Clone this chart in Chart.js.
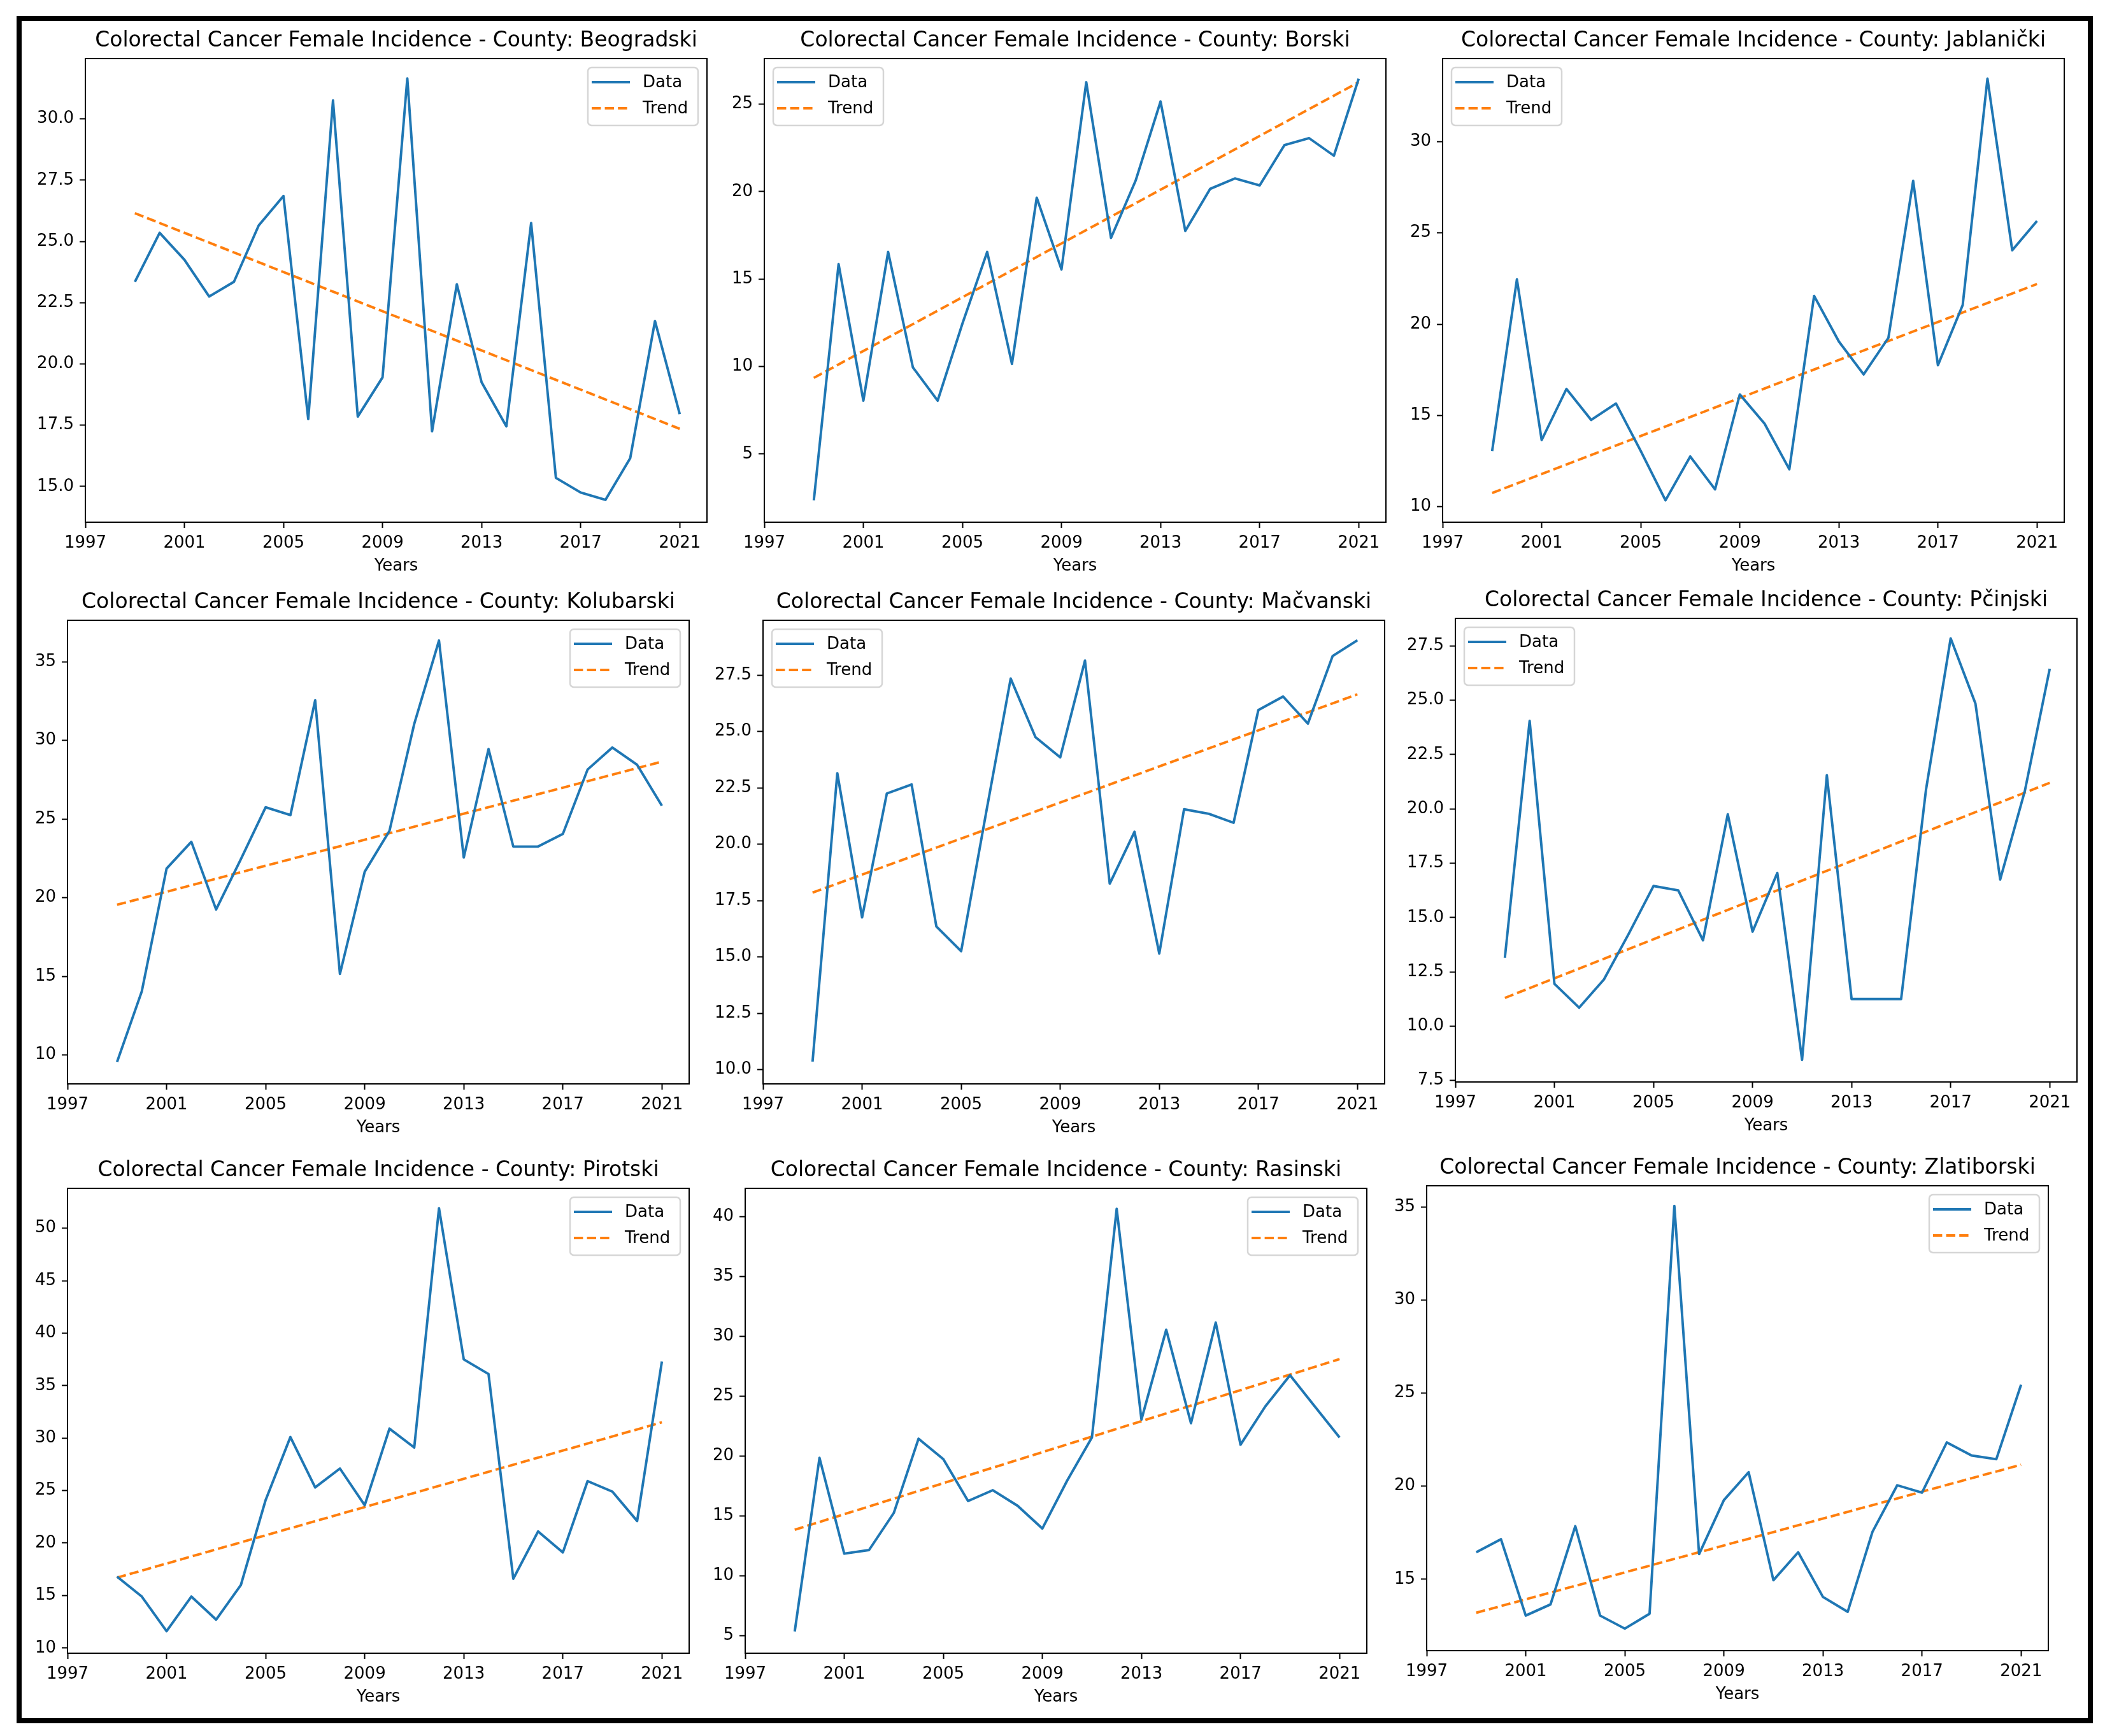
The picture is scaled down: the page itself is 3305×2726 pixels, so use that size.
<!DOCTYPE html>
<html>
<head>
	<meta charset="utf-8">
	<title>Colorectal Cancer Female Incidence</title>
	<script src="https://cdn.jsdelivr.net/npm/chart.js@4/dist/chart.umd.js"></script>
	<style>
		html, body { margin: 0; padding: 0; background: #fff; overflow: hidden; width: 3305px; height: 2726px; }
		canvas { position: absolute; }
		#frame { position: absolute; left: 26px; top: 25px; width: 3244px; height: 2665px; border: 8px solid #000; }
	</style>
</head>
<body>
	<div id="frame"></div>

	<script type="text/javascript">

		const years = [1999,2000,2001,2002,2003,2004,2005,2006,2007,2008,2009,2010,2011,2012,2013,2014,2015,2016,2017,2018,2019,2020,2021];
		const trendYears = [1999, 2021];
		const xTicks = [1997,2001,2005,2009,2013,2017,2021];
		const xMin = 1997;
		const xMax = 2022.1;

		const beogradski = [23.35,25.35,24.25,22.75,23.35,25.65,26.85,17.75,30.75,17.85,19.45,31.65,17.25,23.25,19.25,17.45,25.75,15.35,14.75,14.45,16.15,21.75,17.95];
		const borski = [2.35,15.85,8.05,16.55,9.95,8.05,12.45,16.55,10.15,19.65,15.55,26.25,17.35,20.65,25.15,17.75,20.15,20.75,20.35,22.65,23.05,22.05,26.45];
		const jablanicki = [13.05,22.45,13.65,16.45,14.75,15.65,13.05,10.35,12.75,10.95,16.15,14.55,12.05,21.55,19.05,17.25,19.25,27.85,17.75,21.05,33.45,24.05,25.65];
		const kolubarski = [9.55,14.05,21.85,23.55,19.25,22.45,25.75,25.25,32.55,15.15,21.65,24.25,31.05,36.35,22.55,29.45,23.25,23.25,24.05,28.15,29.55,28.45,25.85];
		const macvanski = [10.35,23.15,16.75,22.25,22.65,16.35,15.25,21.35,27.35,24.75,23.85,28.15,18.25,20.55,15.15,21.55,21.35,20.95,25.95,26.55,25.35,28.35,29.05];
		const pcinjski = [13.15,24.05,11.95,10.85,12.15,14.25,16.45,16.25,13.95,19.75,14.35,17.05,8.45,21.55,11.25,11.25,11.25,20.85,27.85,24.85,16.75,20.85,26.45];
		const pirotski = [16.8,14.9,11.6,14.9,12.7,16,24.1,30.1,25.3,27.1,23.6,30.9,29.1,51.9,37.5,36.1,16.6,21.1,19.1,25.9,24.9,22.1,37.3];
		const rasinski = [5.35,19.85,11.85,12.15,15.25,21.45,19.75,16.25,17.15,15.85,13.95,17.95,21.55,40.65,23.05,30.55,22.75,31.15,20.95,24.15,26.75,24.15,21.55];
		const zlatiborski = [16.45,17.15,13.05,13.65,17.85,13.05,12.35,13.15,35.05,16.35,19.25,20.75,14.95,16.45,14.05,13.25,17.55,20.05,19.65,22.35,21.65,21.45,25.45];

		const trendBeogradski = [26.15, 17.35];
		const trendBorski = [9.35, 26.25];
		const trendJablanicki = [10.75, 22.2];
		const trendKolubarski = [19.55, 28.65];
		const trendMacvanski = [17.85, 26.65];
		const trendPcinjski = [11.3, 21.2];
		const trendPirotski = [16.7, 31.5];
		const trendRasinski = [13.85, 28.1];
		const trendZlatiborski = [13.2, 21.15];

		const panels = [
			{ county: 'Beogradski', data: beogradski, trend: trendBeogradski, yMin: 13.54, yMax: 32.46, yTicks: [15,17.5,20,22.5,25,27.5,30], left: 134, top: 92, h: 728, legend: 'right' },
			{ county: 'Borski', data: borski, trend: trendBorski, yMin: 1.1, yMax: 27.6, yTicks: [5,10,15,20,25], left: 1200, top: 92, h: 728, legend: 'left' },
			{ county: 'Jablanički', data: jablanicki, trend: trendJablanicki, yMin: 9.15, yMax: 34.55, yTicks: [10,15,20,25,30], left: 2265, top: 92, h: 728, legend: 'left' },
			{ county: 'Kolubarski', data: kolubarski, trend: trendKolubarski, yMin: 8.16, yMax: 37.64, yTicks: [10,15,20,25,30,35], left: 106, top: 974, h: 728, legend: 'right' },
			{ county: 'Mačvanski', data: macvanski, trend: trendMacvanski, yMin: 9.365, yMax: 29.935, yTicks: [10,12.5,15,17.5,20,22.5,25,27.5], left: 1198, top: 974, h: 728, legend: 'left' },
			{ county: 'Pčinjski', data: pcinjski, trend: trendPcinjski, yMin: 7.43, yMax: 28.77, yTicks: [7.5,10,12.5,15,17.5,20,22.5,25,27.5], left: 2285, top: 971, h: 728, legend: 'left' },
			{ county: 'Pirotski', data: pirotski, trend: trendPirotski, yMin: 9.5, yMax: 53.8, yTicks: [10,15,20,25,30,35,40,45,50], left: 106, top: 1866, h: 730, legend: 'right' },
			{ county: 'Rasinski', data: rasinski, trend: trendRasinski, yMin: 3.535, yMax: 42.365, yTicks: [5,10,15,20,25,30,35,40], left: 1170, top: 1866, h: 730, legend: 'right' },
			{ county: 'Zlatiborski', data: zlatiborski, trend: trendZlatiborski, yMin: 11.165, yMax: 36.135, yTicks: [15,20,25,30,35], left: 2240, top: 1862, h: 730, legend: 'right' },
		];

		const plotW = 976;
		const sideRoom = 100;
		const topRoom = 60;
		const bottomRoom = 85;
		const fontFamily = '"DejaVu Sans"';
		const blue = '#1f77b4';
		const orange = '#ff7f0e';

		// matplotlib style frame and legend box, chart.js only has them outside the plot
		const framePlugin = {
			id: 'frameAndLegend',
			afterDraw(chart, args, opts) {
				const ctx = chart.ctx;
				const a = chart.chartArea;
				ctx.save();
				ctx.strokeStyle = '#000';
				ctx.lineWidth = 2;
				ctx.strokeRect(a.left, a.top, a.right - a.left, a.bottom - a.top);

				const w = 173, h = 91;
				const x = opts.side === 'left' ? a.left + 14 : a.right - 14 - w;
				const y = a.top + 14;
				ctx.beginPath();
				ctx.roundRect(x, y, w, h, 6);
				ctx.fillStyle = 'rgba(255,255,255,0.8)';
				ctx.fill();
				ctx.strokeStyle = 'rgba(204,204,204,0.8)';
				ctx.lineWidth = 2.5;
				ctx.stroke();

				const sets = chart.data.datasets;
				const rows = [y + 23, y + 64];
				sets.forEach((ds, i) => {
					ctx.beginPath();
					ctx.strokeStyle = ds.borderColor;
					ctx.lineWidth = ds.borderWidth;
					ctx.setLineDash(ds.borderDash || []);
					ctx.moveTo(x + 6, rows[i]);
					ctx.lineTo(x + 66, rows[i]);
					ctx.stroke();
					ctx.setLineDash([]);
					ctx.fillStyle = '#000';
					ctx.font = '26px ' + fontFamily;
					ctx.textBaseline = 'middle';
					ctx.textAlign = 'left';
					ctx.fillText(ds.label, x + 86, rows[i] + 1);
				});
				ctx.restore();
			}
		};

		panels.forEach(p => {
			const canvas = document.createElement('canvas');
			canvas.width = plotW + sideRoom * 2;
			canvas.height = topRoom + p.h + bottomRoom;
			canvas.style.left = (p.left - sideRoom) + 'px';
			canvas.style.top = (p.top - topRoom) + 'px';
			document.body.appendChild(canvas);

			const decimals = p.yTicks.some(v => v % 1 !== 0);
			const tickStyle = { display: true, drawOnChartArea: false, drawTicks: true, tickLength: 9, tickColor: '#000', tickWidth: 2 };

			new Chart(canvas.getContext('2d'), {
				type: 'line',
				data: {
					datasets: [
						{
							label: 'Data',
							data: years.map((y, i) => ({ x: y, y: p.data[i] })),
							borderColor: blue,
							borderWidth: 3.9,
							pointRadius: 0,
							tension: 0,
							borderJoinStyle: 'round',
						},
						{
							label: 'Trend',
							data: trendYears.map((y, i) => ({ x: y, y: p.trend[i] })),
							borderColor: orange,
							borderWidth: 3.9,
							borderDash: [14.4, 6.2],
							pointRadius: 0,
							tension: 0,
						},
					]
				},
				options: {
					responsive: false,
					animation: false,
					devicePixelRatio: 1,
					plugins: {
						legend: { display: false },
						tooltip: { enabled: false },
						title: {
							display: true,
							text: 'Colorectal Cancer Female Incidence - County: ' + p.county,
							color: '#000',
							font: { family: fontFamily, size: 33, weight: 'normal', lineHeight: 1 },
							padding: { top: 16, bottom: 11 },
						},
						frameAndLegend: { side: p.legend },
					},
					scales: {
						x: {
							type: 'linear',
							min: xMin,
							max: xMax,
							afterBuildTicks: s => { s.ticks = xTicks.map(v => ({ value: v })); },
							afterFit: s => { s.height = bottomRoom; },
							ticks: {
								autoSkip: false, maxRotation: 0, minRotation: 0, padding: 9,
								color: '#000', font: { family: fontFamily, size: 26 },
								callback: v => String(v),
							},
							grid: tickStyle,
							border: { display: true, color: '#000', width: 2 },
							title: {
								display: true, text: 'Years', color: '#000',
								font: { family: fontFamily, size: 26 },
								padding: 0,
							},
						},
						y: {
							type: 'linear',
							min: p.yMin,
							max: p.yMax,
							afterBuildTicks: s => { s.ticks = p.yTicks.map(v => ({ value: v })); },
							afterFit: s => { s.width = sideRoom; },
							ticks: {
								autoSkip: false, padding: 9,
								color: '#000', font: { family: fontFamily, size: 26 },
								callback: v => decimals ? v.toFixed(1) : String(v),
							},
							grid: tickStyle,
							border: { display: true, color: '#000', width: 2 },
						},
						// empty axis on the right, keeps the title centred over the plot
						spacer: {
							type: 'linear',
							position: 'right',
							afterFit: s => { s.width = sideRoom; },
							ticks: { display: false },
							grid: { display: false },
							border: { display: false },
						},
					},
				},
				plugins: [framePlugin],
			});
		});

	</script>
</body>
</html>
